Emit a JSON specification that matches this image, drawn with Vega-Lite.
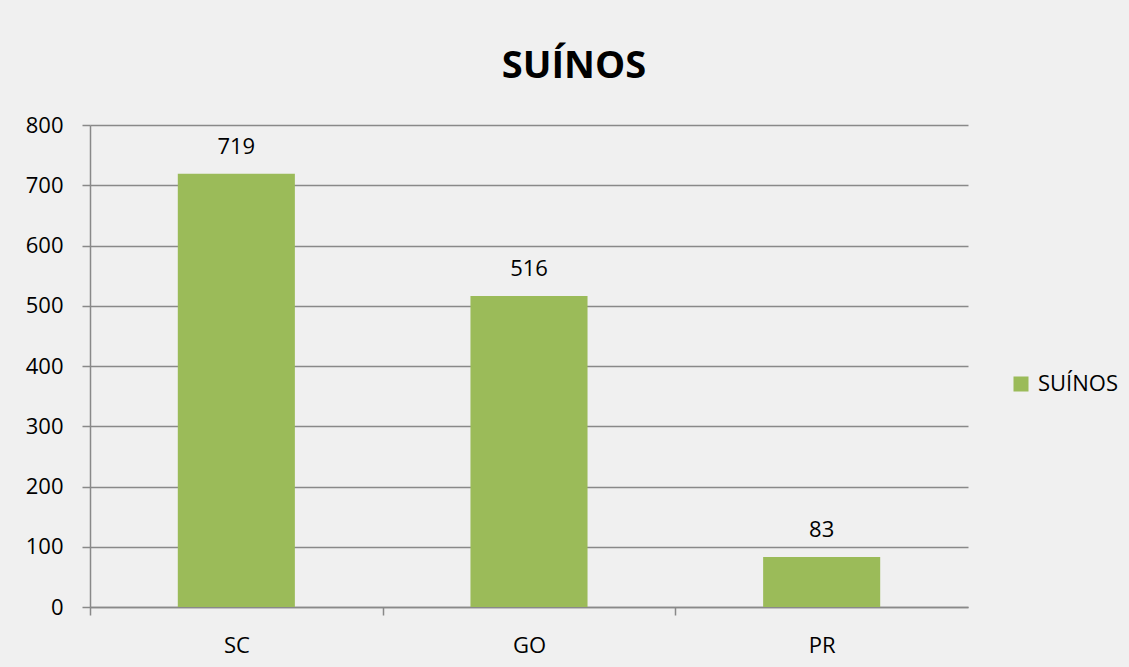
{
  "$schema": "https://vega.github.io/schema/vega-lite/v6.json",
  "width": 878,
  "height": 482,
  "autosize": {"type": "none"},
  "padding": {"left": 90, "top": 125, "right": 161, "bottom": 60},
  "background": "#f0f0f0",
  "title": {
    "text": "SUÍNOS",
    "font": "Open Sans",
    "fontSize": 38,
    "fontWeight": "bold",
    "color": "#000000",
    "anchor": "middle",
    "frame": "group",
    "dx": 45,
    "offset": 28
  },
  "data": {
    "values": [
      {"estado": "SC", "valor": 719, "serie": "SUÍNOS"},
      {"estado": "GO", "valor": 516, "serie": "SUÍNOS"},
      {"estado": "PR", "valor": 83, "serie": "SUÍNOS"}
    ]
  },
  "encoding": {
    "x": {
      "field": "estado",
      "type": "nominal",
      "sort": null,
      "scale": {"paddingInner": 0.6, "paddingOuter": 0.3},
      "axis": {
        "title": null,
        "labelAngle": 0,
        "labelFont": "Open Sans",
        "labelFontSize": 22,
        "labelColor": "#000000",
        "labelPadding": 20,
        "labelOffset": 146.3,
        "domainColor": "#898989",
        "domainWidth": 1.5,
        "tickColor": "#898989",
        "tickWidth": 1.5,
        "tickSize": 8,
        "tickOffset": -146.3,
        "grid": false
      }
    },
    "y": {
      "field": "valor",
      "type": "quantitative",
      "scale": {"domain": [0, 800], "nice": false},
      "axis": {
        "title": null,
        "values": [0, 100, 200, 300, 400, 500, 600, 700, 800],
        "labelFont": "Open Sans",
        "labelFontSize": 22,
        "labelColor": "#000000",
        "labelPadding": 19,
        "domainColor": "#898989",
        "domainWidth": 1.5,
        "tickColor": "#898989",
        "tickWidth": 1.5,
        "tickSize": 8,
        "grid": true,
        "gridColor": "#898989",
        "gridWidth": 1.5
      }
    }
  },
  "layer": [
    {
      "mark": {"type": "bar", "color": "#9bbb59"},
      "encoding": {
        "color": {
          "field": "serie",
          "type": "nominal",
          "scale": {"range": ["#9bbb59"]},
          "legend": {
            "title": null,
            "orient": "none",
            "legendX": 920,
            "legendY": 248,
            "symbolType": "square",
            "symbolSize": 225,
            "symbolStrokeWidth": 0,
            "labelFont": "Open Sans",
            "labelFontSize": 22,
            "labelColor": "#000000",
            "labelOffset": 6
          }
        }
      }
    },
    {
      "mark": {
        "type": "text",
        "font": "Open Sans",
        "fontSize": 22,
        "color": "#000000",
        "baseline": "alphabetic",
        "dy": -20
      },
      "encoding": {
        "text": {"field": "valor", "type": "quantitative"}
      }
    }
  ],
  "config": {
    "view": {"stroke": null}
  }
}
